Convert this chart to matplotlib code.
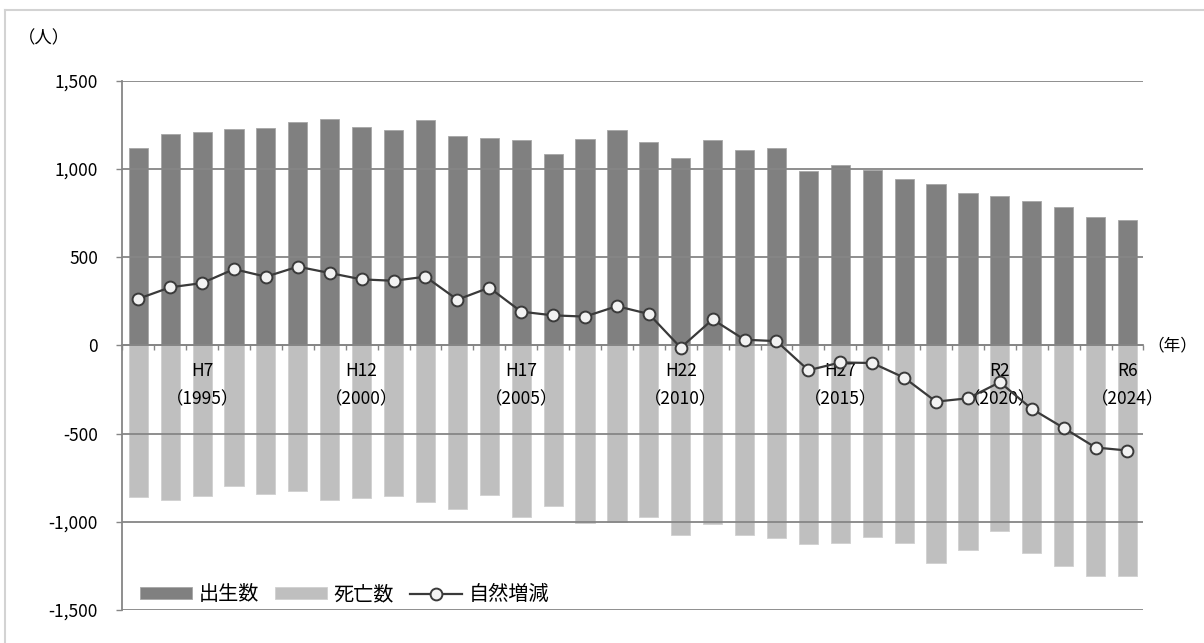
import matplotlib
matplotlib.use('Agg')
import matplotlib.pyplot as plt
from matplotlib.lines import Line2D
from matplotlib.ticker import FuncFormatter, FixedLocator

plt.rcParams['font.family'] = ['Noto Sans CJK JP', 'DejaVu Sans']

# 1993 (H5) .. 2024 (R6)
years = [1993, 1994, 1995, 1996, 1997, 1998, 1999, 2000, 2001, 2002, 2003,
         2004, 2005, 2006, 2007, 2008, 2009, 2010, 2011, 2012, 2013, 2014,
         2015, 2016, 2017, 2018, 2019, 2020, 2021, 2022, 2023, 2024]

births = [1120, 1200, 1210, 1227, 1233, 1267, 1285, 1238, 1220, 1276, 1189,
          1176, 1165, 1084, 1169, 1223, 1153, 1060, 1163, 1108, 1120, 988,
          1022, 993, 942, 914, 865, 844, 819, 784, 729, 712]

deaths = [-858, -874, -855, -795, -842, -823, -874, -864, -851, -887, -929,
          -847, -972, -913, -1005, -1002, -974, -1073, -1010, -1074, -1093,
          -1127, -1121, -1089, -1123, -1232, -1159, -1055, -1178, -1249,
          -1306, -1310]

natural = [264, 329, 353, 432, 389, 446, 410, 374, 366, 389, 259, 327, 191,
           170, 163, 222, 178, -13, 147, 32, 24, -141, -97, -100, -183, -319,
           -300, -209, -360, -468, -579, -596]

# era labels shown under the zero line
label_years = [1995, 2000, 2005, 2010, 2015, 2020, 2024]
label_text = ['H7\n（1995）', 'H12\n（2000）', 'H17\n（2005）', 'H22\n（2010）',
              'H27\n（2015）', 'R2\n（2020）', 'R6\n（2024）']

yticks = [-1500, -1000, -500, 0, 500, 1000, 1500]

GRID = '#868686'

fig = plt.figure(figsize=(12.04, 6.43), dpi=100)
ax = fig.add_axes([0.1016, 0.0513, 0.8481, 0.8232])

x = list(range(len(years)))
b1 = ax.bar(x, births, width=0.6, color='#808080', edgecolor='#a6a6a6',
            linewidth=0.6, label='出生数')
b2 = ax.bar(x, deaths, width=0.6, color='#bfbfbf', edgecolor='#d0d0d0',
            linewidth=0.6, label='死亡数')
ln, = ax.plot(x, natural, color='#3a3a3a', lw=1.6, marker='o', ms=8.5,
              mfc='#f2f2f2', mec='#3a3a3a', mew=1.4, label='自然増減', zorder=3)

ax.set_xlim(-0.5, len(years) - 0.5)
ax.set_ylim(-1500, 1500)

# y axis
ax.set_yticks(yticks)
ax.yaxis.set_major_formatter(FuncFormatter(lambda v, p: f'{int(v):,}'))
ax.yaxis.grid(True, color=GRID, lw=1.3)
ax.tick_params(axis='y', length=4.5, width=1.0, color=GRID, pad=13,
               labelsize=12.5)

# x axis sits on zero
ax.spines['bottom'].set_position(('data', 0))
ax.spines['bottom'].set_color(GRID)
ax.spines['bottom'].set_linewidth(1.3)
ax.spines['left'].set_color(GRID)
ax.spines['left'].set_linewidth(1.3)
ax.spines['top'].set_visible(False)
ax.spines['right'].set_visible(False)

pos = [years.index(yr) for yr in label_years]
ax.set_xticks(pos)
ax.set_xticklabels(label_text, linespacing=1.75)
ax.tick_params(axis='x', which='major', length=0, pad=12, labelsize=12.5)
ax.xaxis.set_minor_locator(FixedLocator([i - 0.5 for i in range(len(years) + 1)]))
ax.tick_params(axis='x', which='minor', length=3.5, width=1.0, color=GRID,
               direction='out')

# unit labels
fig.text(18 / 1204, 1 - 38 / 643, '（人）', fontsize=12.5, va='center', ha='left')
fig.text(1147 / 1204, 1 - 346 / 643, '（年）', fontsize=12, va='center', ha='left')

# outer frame of the chart area (cropped)
fig.add_artist(Line2D([5 / 1204, 1.0], [1 - 10 / 643] * 2,
                      transform=fig.transFigure, color='#d3d3d3', lw=1.5))
fig.add_artist(Line2D([5 / 1204] * 2, [0.0, 1 - 10 / 643],
                      transform=fig.transFigure, color='#d3d3d3', lw=1.5))

ax.legend([b1, b2, ln], ['出生数', '死亡数', '自然増減'],
          loc='lower left', bbox_to_anchor=(0.0, -0.025), ncol=3,
          frameon=False, fontsize=14.5, handlelength=2.55, handleheight=0.5,
          handletextpad=0.35, columnspacing=0.8)

fig.savefig('out.png', dpi=100)
